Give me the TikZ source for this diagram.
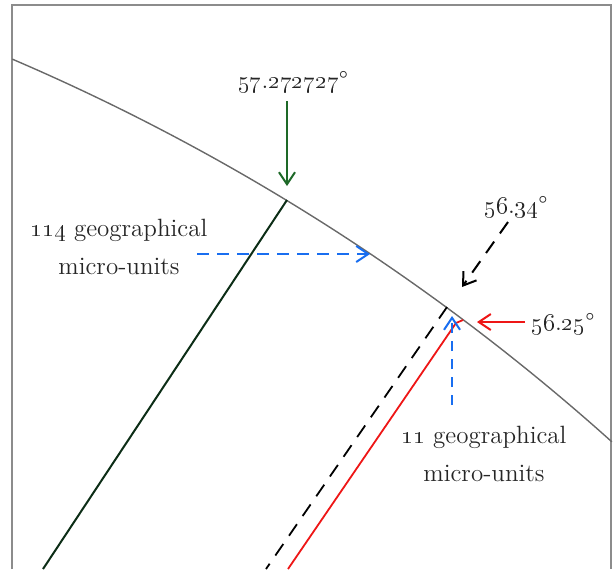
\documentclass[tikz,border=0pt]{standalone}
\usepackage{tikz}
\usetikzlibrary{arrows.meta,calc}
\definecolor{framegray}{RGB}{140,140,140}
\definecolor{arcgray}{RGB}{105,105,105}
\definecolor{deepgreen}{RGB}{12,45,22}
\definecolor{leafgreen}{RGB}{30,105,40}
\definecolor{skyblue}{RGB}{25,110,240}
\definecolor{signred}{RGB}{238,22,22}
\definecolor{ink}{RGB}{38,38,38}
\newcommand{\osn}[1]{\oldstylenums{#1}}

\begin{document}
\begin{tikzpicture}[x=0.5pt,y=-0.5pt,
  lbl/.style={font=\fontsize{12.5}{19}\selectfont,text=ink,align=center,inner sep=0pt},
  barb/.style={-{Straight Barb[length=6pt,width=8pt]},line width=1pt}]
\useasboundingbox (0,0) rectangle (614,569);
% sheet
\draw[framegray,line width=0.8pt] (12,569) -- (12,5) -- (611,5) -- (611,569);
% meridian arc
\coordinate (arcC) at (-850,2071);
\draw[arcgray,line width=0.7pt] (arcC) ++(-66.8:2189)
  arc[start angle=-66.8,end angle=-48.1,radius=2189];
% points on the arc
\coordinate (ptA) at (287,200);
\coordinate (ptC) at (447,307);
\coordinate (ptD) at (463,320);
\coordinate (bendD) at (456,323);
% lines down from the arc
\draw[deepgreen,line width=1pt] (ptA) -- (43,569);
\draw[black,line width=0.9pt,dash pattern=on 7pt off 5pt] (ptC) -- (266,569);
\draw[signred,line width=0.9pt] (ptD) -- (bendD) -- (288,569);
% labels
\node[lbl,anchor=base] (lblA) at (293,88) {\osn{57}.\osn{272727}\textdegree};
\node[lbl,anchor=base] (lblC) at (516,213) {\osn{56}.\osn{34}\textdegree};
\node[lbl,anchor=base] (lblD) at (563,330) {\osn{56}.\osn{25}\textdegree};
\node[lbl] (lblB) at (119,247) {\osn{114} geographical\\micro-units};
\node[lbl] (lblE) at (484,454) {\osn{11} geographical\\micro-units};
% arrows
\coordinate (tipA) at (287,186);
\coordinate (tipC) at (462,287);
\coordinate (tipD) at (477,322);
\coordinate (bStart) at (197,254);
\coordinate (bEnd) at (370,254);
\coordinate (eStart) at (452,405);
\coordinate (eEnd) at (452,316);
\draw[barb,leafgreen] (lblA.south -| tipA) ++(0,8) -- (tipA);
\draw[barb,black,dash pattern=on 7pt off 5pt] (508,222) -- (tipC);
\draw[barb,signred] (lblD.west |- tipD) ++(-6,0) -- (tipD);
\draw[barb,skyblue,dash pattern=on 6pt off 4pt] (bStart) -- (bEnd);
\draw[barb,skyblue,dash pattern=on 5pt off 4pt] (eStart) -- (eEnd);
\end{tikzpicture}
\end{document}
